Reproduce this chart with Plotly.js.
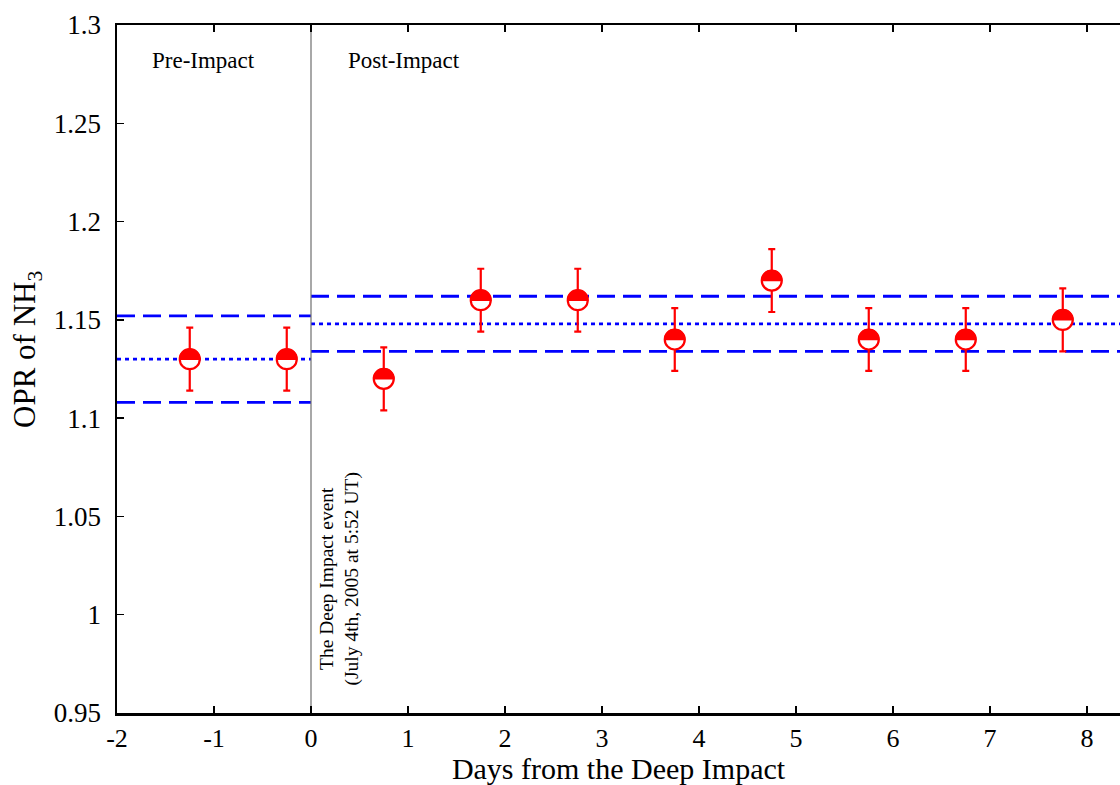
<!DOCTYPE html>
<html>
<head>
<meta charset="utf-8">
<script src="https://cdn.plot.ly/plotly-3.0.1.min.js"></script>
<style>
html,body{margin:0;padding:0;background:#fff;}
#chart{width:1120px;height:785px;}
</style>
</head>
<body>
<div id="chart"></div>
<script>
// ---- data ----
const days = [-1.25, -0.25, 0.75, 1.75, 2.75, 3.75, 4.75, 5.75, 6.75, 7.75];
const opr = [1.13, 1.13, 1.12, 1.16, 1.16, 1.14, 1.17, 1.14, 1.14, 1.15];
const oprErr = [0.016, 0.016, 0.016, 0.016, 0.016, 0.016, 0.016, 0.016, 0.016, 0.016];

const preRange = [-2, 0];
const preMean = 1.13;
const preSigma = 0.022;
const postRange = [0, 8.34];
const postMean = 1.148;
const postSigma = 0.014;

const yTickVals = [0.95, 1, 1.05, 1.1, 1.15, 1.2, 1.25, 1.3];
const yTickText = ['0.95', '1', '1.05', '1.1', '1.15', '1.2', '1.25', '1.3'];
const xTickVals = [-2, -1, 0, 1, 2, 3, 4, 5, 6, 7, 8];
const xTickText = ['-2', '-1', '0', '1', '2', '3', '4', '5', '6', '7', '8'];

const FONT = '"Liberation Serif", "Times New Roman", serif';
const BLUE = 'rgb(0,0,255)';
const RED = 'rgb(255,0,0)';

function hline(range, yv, dash) {
  return {
    x: range, y: [yv, yv], mode: 'lines', type: 'scatter', hoverinfo: 'skip',
    line: {color: BLUE, width: 2.8, dash: dash}, showlegend: false
  };
}

const traces = [
  hline(preRange, preMean + preSigma, '18px,8px'),
  hline(preRange, preMean, '4px,4px'),
  hline(preRange, preMean - preSigma, '18px,8px'),
  hline(postRange, postMean + postSigma, '18px,8px'),
  hline(postRange, postMean, '4px,4px'),
  hline(postRange, postMean - postSigma, '18px,8px'),
  {
    x: [0, 0], y: [0.95, 1.3], mode: 'lines', type: 'scatter', hoverinfo: 'skip',
    line: {color: 'rgb(110,110,110)', width: 1.2}, showlegend: false
  },
  {
    x: days, y: opr, mode: 'markers', type: 'scatter', showlegend: false,
    error_y: {type: 'data', array: oprErr, visible: true, color: RED, thickness: 2.2, width: 3.5},
    marker: {symbol: 'circle', size: 20, color: 'white', line: {color: RED, width: 2.2}}
  },
  {
    x: days, y: opr, mode: 'markers', type: 'scatter', showlegend: false,
    marker: {symbol: 'circle', size: 20, color: RED, line: {color: RED, width: 1.5}}
  }
];

const layout = {
  width: 1120, height: 785,
  margin: {l: 117, r: 0, t: 25, b: 72},
  paper_bgcolor: 'white', plot_bgcolor: 'white',
  font: {family: FONT, color: 'black', size: 26},
  showlegend: false,
  xaxis: {
    range: [-2, 8.34], tickvals: xTickVals, ticktext: xTickText,
    ticks: 'inside', ticklen: 7, tickwidth: 1.5, tickcolor: 'black',
    showline: true, linecolor: 'black', linewidth: 2.5, mirror: 'allticks',
    showgrid: false, zeroline: false, ticklabelstandoff: 0,
    tickfont: {family: FONT, size: 26, color: 'black'},
    title: {text: 'Days from the Deep Impact', font: {family: FONT, size: 30, color: 'black'}, standoff: 0}
  },
  yaxis: {
    range: [0.95, 1.3], tickvals: yTickVals, ticktext: yTickText,
    ticks: 'inside', ticklen: 7, tickwidth: 1.5, tickcolor: 'black',
    showline: true, linecolor: 'black', linewidth: 2.5, mirror: false,
    showgrid: false, zeroline: false, ticklabelstandoff: 8,
    tickfont: {family: FONT, size: 27, color: 'black'}
  },
  annotations: [
    {x: -90 / 1003, y: (713 - 350) / 688, xref: 'paper', yref: 'paper', text: 'OPR of NH<sub>3</sub>',
     showarrow: false, textangle: -90, xanchor: 'center', yanchor: 'middle',
     font: {family: FONT, size: 31, color: 'black'}},
    {x: -1.11, y: 1.282, xref: 'x', yref: 'y', text: 'Pre-Impact', showarrow: false,
     font: {family: FONT, size: 23, color: 'black'}},
    {x: 0.96, y: 1.282, xref: 'x', yref: 'y', text: 'Post-Impact', showarrow: false,
     font: {family: FONT, size: 23, color: 'black'}},
    {x: 0.29, y: 1.018, xref: 'x', yref: 'y', text: 'The Deep Impact event<br>(July 4th, 2005 at 5:52 UT)',
     showarrow: false, textangle: -90, align: 'center',
     font: {family: FONT, size: 19.5, color: 'black'}}
  ]
};

const gd = document.getElementById('chart');

function halfMarkers() {
  const groups = gd.querySelectorAll('.scatterlayer .trace');
  if (!groups.length) return;
  const last = groups[groups.length - 1];
  last.querySelectorAll('path.point').forEach(function (p) {
    const d = p.getAttribute('d') || '';
    const m = d.match(/^M([\d.]+),0/);
    if (!m) return;
    const r = parseFloat(m[1]);
    p.setAttribute('d', 'M' + r + ',0A' + r + ',' + r + ' 0 0,0 -' + r + ',0Z');
  });
}

Plotly.newPlot(gd, traces, layout, {staticPlot: true, displayModeBar: false}).then(function () {
  halfMarkers();
  gd.on('plotly_afterplot', halfMarkers);
});
</script>
</body>
</html>
